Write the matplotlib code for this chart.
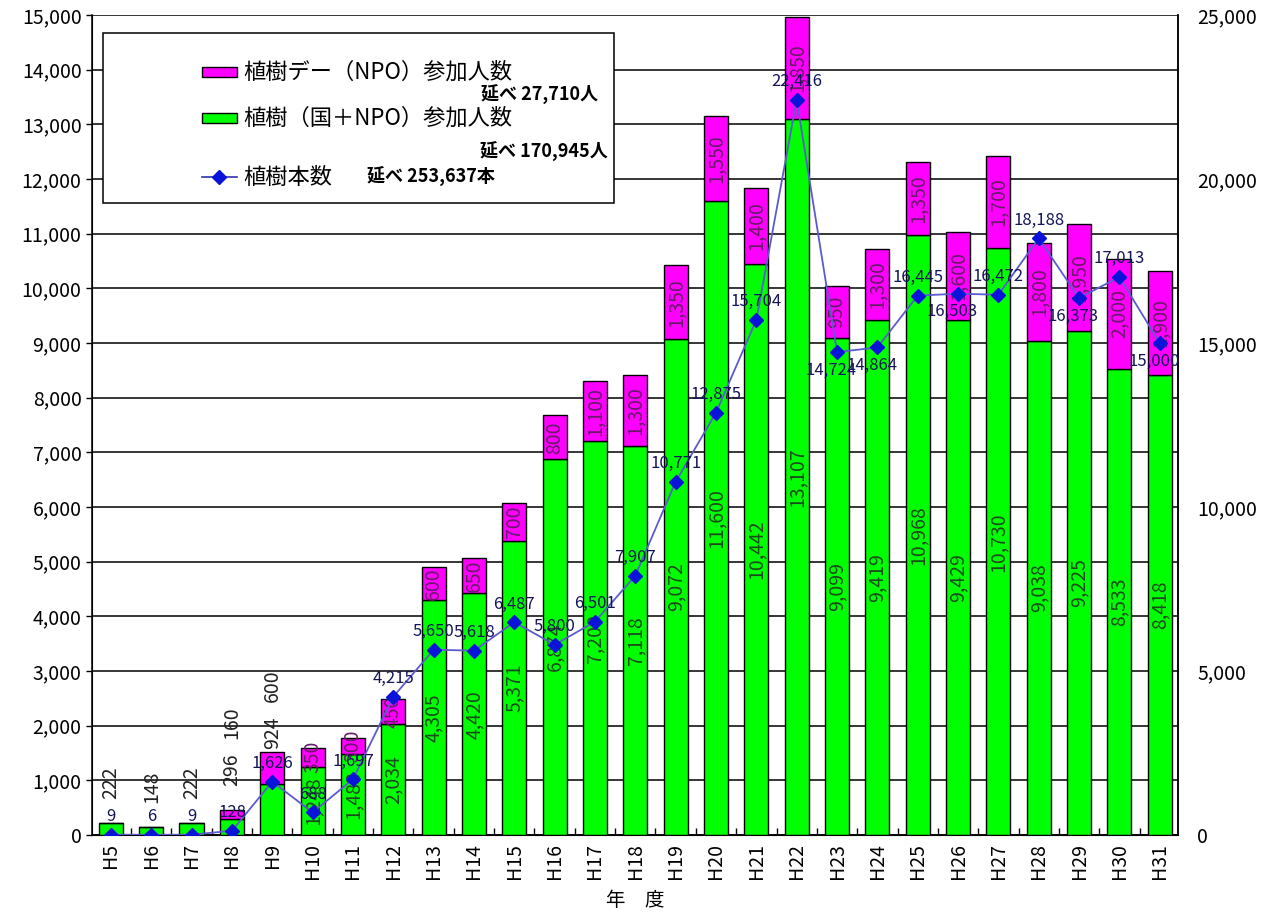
import numpy as np
import matplotlib
matplotlib.use('Agg')
import matplotlib.pyplot as plt
from matplotlib.patches import Rectangle
from matplotlib.lines import Line2D

plt.rcParams['font.family'] = ['Noto Sans CJK JP', 'DejaVu Sans']

years = ['H5', 'H6', 'H7', 'H8', 'H9', 'H10', 'H11', 'H12', 'H13', 'H14',
         'H15', 'H16', 'H17', 'H18', 'H19', 'H20', 'H21', 'H22', 'H23', 'H24',
         'H25', 'H26', 'H27', 'H28', 'H29', 'H30', 'H31']

# 植樹（国＋NPO）参加人数
people_all = [222, 148, 222, 296, 924, 1248, 1483, 2034, 4305, 4420,
              5371, 6874, 7200, 7118, 9072, 11600, 10442, 13107, 9099, 9419,
              10968, 9429, 10730, 9038, 9225, 8533, 8418]
# 植樹デー（NPO）参加人数
people_day = [0, 0, 0, 160, 600, 350, 300, 450, 600, 650,
              700, 800, 1100, 1300, 1350, 1550, 1400, 1850, 950, 1300,
              1350, 1600, 1700, 1800, 1950, 2000, 1900]
# 植樹本数
trees = [9, 6, 9, 128, 1626, 688, 1697, 4215, 5650, 5618,
         6487, 5800, 6501, 7907, 10771, 12875, 15704, 22416, 14724, 14864,
         16445, 16503, 16472, 18188, 16373, 17013, 15000]

total_day = '延べ 27,710人'
total_all = '延べ 170,945人'
total_trees = '延べ 253,637本'

# years whose tree-count label sits under the marker
below = {'H23', 'H24', 'H26', 'H29', 'H31'}

GREEN = '#00ff00'
MAGENTA = '#ff00ff'

fig = plt.figure(figsize=(12.72, 9.22), dpi=100)
ax = fig.add_axes([0.0723, 0.0944, 0.8537, 0.8893])
ax2 = ax.twinx()

x = np.arange(len(years))
w = 0.6
ax.bar(x, people_all, w, color=GREEN, edgecolor='black', linewidth=1, zorder=3)
ax.bar(x, people_day, w, bottom=people_all, color=MAGENTA, edgecolor='black',
       linewidth=1, zorder=3)

ax.set_xlim(-0.47, len(years) - 0.55)
ax.set_ylim(0, 15000)
ax.set_yticks(np.arange(0, 15001, 1000))
ax.set_yticklabels([f'{v:,}' for v in range(0, 15001, 1000)], fontsize=14)
ax.yaxis.grid(True, color='black', linewidth=1.1, zorder=1)
ax.set_axisbelow(True)
ax.set_xticks(x)
ax.set_xticklabels(years, rotation=90, fontsize=14)
ax.set_xticks(x[:-1] + 0.5, minor=True)
ax.tick_params(axis='x', which='major', length=0, pad=6)
ax.tick_params(axis='x', which='minor', direction='in', length=5, width=1)
ax.tick_params(axis='y', length=4, width=1)
ax.set_xlabel('年\u3000度', fontsize=14, labelpad=8)
for s in ['left', 'right', 'bottom']:
    ax.spines[s].set_linewidth(1.1)
ax.spines['top'].set_visible(False)

ax2.set_ylim(0, 25000)
ax2.set_yticks(np.arange(0, 25001, 5000))
ax2.set_yticklabels([f'{v:,}' for v in range(0, 25001, 5000)], fontsize=14)
ax2.tick_params(axis='y', length=0, pad=14)
ax2.spines['top'].set_visible(False)
ax2.spines['right'].set_linewidth(1.1)

# bar value labels
for i, (g, m) in enumerate(zip(people_all, people_day)):
    if g + m < 1560:
        # short bars: labels stacked above the bar
        off = 17 if g + m < 1000 else 2
        ax.annotate(f'{g:,}', (i, g + m), xytext=(0, off),
                    textcoords='offset points', rotation=90, ha='center',
                    va='bottom', fontsize=14, color='#222222', zorder=6)
        if m:
            ax.annotate(f'{m:,}', (i, g + m), xytext=(0, off + 34),
                        textcoords='offset points', rotation=90, ha='center',
                        va='bottom', fontsize=14, color='#222222', zorder=6)
    else:
        ax.text(i, g / 2, f'{g:,}', rotation=90, ha='center', va='center',
                fontsize=14, color='#1c4a1c', zorder=6)
        ax.text(i, g + m / 2, f'{m:,}', rotation=90, ha='center', va='center',
                fontsize=14, color='#6a1a6a', zorder=6)

ax2.plot(x, trees, color='#5b5bd0', linewidth=1.3, marker='D', markersize=7,
         markerfacecolor='#0a14d8', markeredgecolor='#0a14d8', zorder=5)
for i, v in enumerate(trees):
    if years[i] in below:
        ax2.annotate(f'{v:,}', (i, v), xytext=(-4, -7),
                     textcoords='offset points', ha='center', va='top',
                     fontsize=12, color='#14145a', zorder=6)
    else:
        ax2.annotate(f'{v:,}', (i, v), xytext=(0, 7),
                     textcoords='offset points', ha='center', va='bottom',
                     fontsize=12, color='#14145a', zorder=6)

# legend box drawn in axes coordinates
bx = ax.transAxes
ax2.add_patch(Rectangle((0.010, 0.7707), 0.4705, 0.2073, transform=bx,
                        facecolor='white', edgecolor='black', linewidth=1.1,
                        zorder=10))
ax2.add_patch(Rectangle((0.1013, 0.9244), 0.0322, 0.0122, transform=bx,
                        facecolor=MAGENTA, edgecolor='black', linewidth=1,
                        zorder=11))
ax2.add_patch(Rectangle((0.1013, 0.8683), 0.0322, 0.0122, transform=bx,
                        facecolor=GREEN, edgecolor='black', linewidth=1,
                        zorder=11))
ax2.add_line(Line2D([0.1013, 0.1335], [0.8024, 0.8024], transform=bx,
                    color='#3030b0', linewidth=1.2, zorder=11))
ax2.add_line(Line2D([0.1174], [0.8024], transform=bx, color='#0a14d8',
                    marker='D', markersize=7, linestyle='none', zorder=12))
ax2.text(0.139, 0.9305, '植樹デー（NPO）参加人数', transform=bx, fontsize=16,
         va='center', ha='left', zorder=11)
ax2.text(0.466, 0.9024, total_day, transform=bx, fontsize=13, weight='bold',
         va='center', ha='right', zorder=11)
ax2.text(0.139, 0.8744, '植樹（国＋NPO）参加人数', transform=bx, fontsize=16,
         va='center', ha='left', zorder=11)
ax2.text(0.475, 0.8329, total_all, transform=bx, fontsize=13, weight='bold',
         va='center', ha='right', zorder=11)
ax2.text(0.139, 0.8024, '植樹本数', transform=bx, fontsize=16, va='center',
         ha='left', zorder=11)
ax2.text(0.253, 0.8024, total_trees, transform=bx, fontsize=13, weight='bold',
         va='center', ha='left', zorder=11)

fig.savefig('out.png', dpi=100)
